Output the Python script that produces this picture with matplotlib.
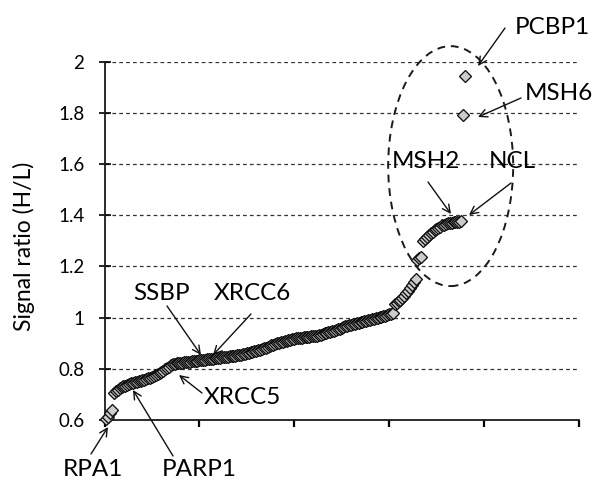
import matplotlib
matplotlib.use("Agg")
import matplotlib.pyplot as plt
from matplotlib.patches import Ellipse
import numpy as np

plt.rcParams['font.family'] = ['Lato', 'DejaVu Sans']

# Sorted signal ratios (H/L), one per protein
signal_ratio = [
    0.603, 0.612, 0.628, 0.640, 0.705, 0.713, 0.719, 0.724, 0.728, 0.731,
    0.734, 0.737, 0.740, 0.743, 0.746, 0.748, 0.750, 0.752, 0.754, 0.756,
    0.758, 0.760, 0.763, 0.766, 0.769, 0.772, 0.776, 0.780, 0.784, 0.788,
    0.793, 0.798, 0.803, 0.808, 0.813, 0.817, 0.820, 0.821, 0.822, 0.823,
    0.824, 0.825, 0.826, 0.827, 0.828, 0.829, 0.830, 0.831, 0.832, 0.833,
    0.834, 0.835, 0.836, 0.837, 0.838, 0.839, 0.840, 0.841, 0.842, 0.843,
    0.844, 0.845, 0.846, 0.847, 0.848, 0.849, 0.850, 0.851, 0.852, 0.853,
    0.854, 0.855, 0.857, 0.859, 0.861, 0.863, 0.865, 0.867, 0.869, 0.871,
    0.873, 0.875, 0.877, 0.880, 0.883, 0.886, 0.889, 0.892, 0.895, 0.897,
    0.899, 0.901, 0.903, 0.905, 0.907, 0.909, 0.911, 0.913, 0.915, 0.917,
    0.919, 0.920, 0.921, 0.922, 0.923, 0.924, 0.925, 0.926, 0.927, 0.928,
    0.929, 0.930, 0.932, 0.934, 0.936, 0.938, 0.940, 0.942, 0.944, 0.946,
    0.948, 0.951, 0.954, 0.957, 0.960, 0.963, 0.966, 0.968, 0.970, 0.972,
    0.974, 0.976, 0.978, 0.980, 0.982, 0.984, 0.986, 0.988, 0.990, 0.992,
    0.994, 0.996, 0.998, 1.000, 1.002, 1.004, 1.006, 1.008, 1.010, 1.013,
    1.016, 1.020, 1.052, 1.058, 1.064, 1.070, 1.076, 1.085, 1.095, 1.105,
    1.115, 1.128, 1.140, 1.150, 1.226, 1.232, 1.238, 1.300, 1.308, 1.316,
    1.324, 1.330, 1.336, 1.342, 1.347, 1.352, 1.356, 1.360, 1.363, 1.366,
    1.368, 1.370, 1.371, 1.372, 1.373, 1.374, 1.375, 1.376, 1.790, 1.945,
]
rank = list(range(1, len(signal_ratio) + 1))

y_ticks = [0.6, 0.8, 1.0, 1.2, 1.4, 1.6, 1.8, 2.0]
y_tick_labels = ['0.6', '0.8', '1', '1.2', '1.4', '1.6', '1.8', '2']
x_ticks = [0, 50, 100, 150, 200, 250]

# label, text position (px), arrow start (px), arrow tip (px) -- figure pixels from top-left
annotations = [
    ('PCBP1', (552, 28), (505, 28), (478, 66)),
    ('MSH6', (559, 93), (521, 98), (478, 117)),
    ('MSH2', (426, 162), (428, 182), (451, 214)),
    ('NCL', (512, 162), (511, 183), (469, 215)),
    ('SSBP', (162, 293), (167, 306), (201, 355)),
    ('XRCC6', (252, 293), (251, 314), (213, 355)),
    ('XRCC5', (242, 397), (202, 393), (179, 375)),
    ('RPA1', (93, 469), (91, 454), (108, 427)),
    ('PARP1', (199, 469), (173, 456), (133, 390)),
]

W, H = 594, 486
fig = plt.figure(figsize=(W / 100, H / 100), dpi=100)
ax_left, ax_right, ax_top, ax_bot = 104.5, 578.7, 61.7, 420.0
ax = fig.add_axes([ax_left / W, 1 - ax_bot / H, (ax_right - ax_left) / W, (ax_bot - ax_top) / H])

ax.set_xlim(0, 250)
ax.set_ylim(0.6, 2.0)

for yt in y_ticks[1:]:
    ax.axhline(yt, color='#333333', lw=0.9, ls=(0, (3, 2.5)), zorder=1)

ax.plot(rank, signal_ratio, ls='none', marker='D', markersize=5.8,
        markerfacecolor='#cccccc', markeredgecolor='#111111',
        markeredgewidth=0.95, zorder=3, clip_on=False)

ax.set_yticks(y_ticks)
ax.set_yticklabels(y_tick_labels)
ax.set_xticks(x_ticks)
ax.set_xticklabels([])
ax.tick_params(axis='y', direction='inout', length=9, width=1.2, labelsize=13.5, pad=10)
ax.tick_params(axis='x', direction='out', length=5, width=1.6)

for s in ['top', 'right']:
    ax.spines[s].set_visible(False)
for s in ['left', 'bottom']:
    ax.spines[s].set_linewidth(1.3)
    ax.spines[s].set_color('#1a1a1a')

ax.set_ylabel('Signal ratio (H/L)', fontsize=16.5)
ax.yaxis.set_label_coords((35 - ax_left) / (ax_right - ax_left),
                          (ax_bot - 246) / (ax_bot - ax_top))

ell = Ellipse((182.5, 1.592), 65.9, 0.9375, fill=False, ls=(0, (4, 3)),
              lw=1.4, edgecolor='#1a1a1a', zorder=4, clip_on=False)
ax.add_patch(ell)

def fp(p):
    return (p[0] / W, 1 - p[1] / H)

for label, tpos, astart, atip in annotations:
    fig.text(*fp(tpos), label, ha='center', va='center', fontsize=17.5)
    ax.annotate('', xy=fp(atip), xycoords='figure fraction',
                xytext=fp(astart), textcoords='figure fraction',
                arrowprops=dict(arrowstyle='->', lw=1.0, color='#111111',
                                shrinkA=0, shrinkB=0, mutation_scale=14))

fig.savefig('out.png', dpi=100)
